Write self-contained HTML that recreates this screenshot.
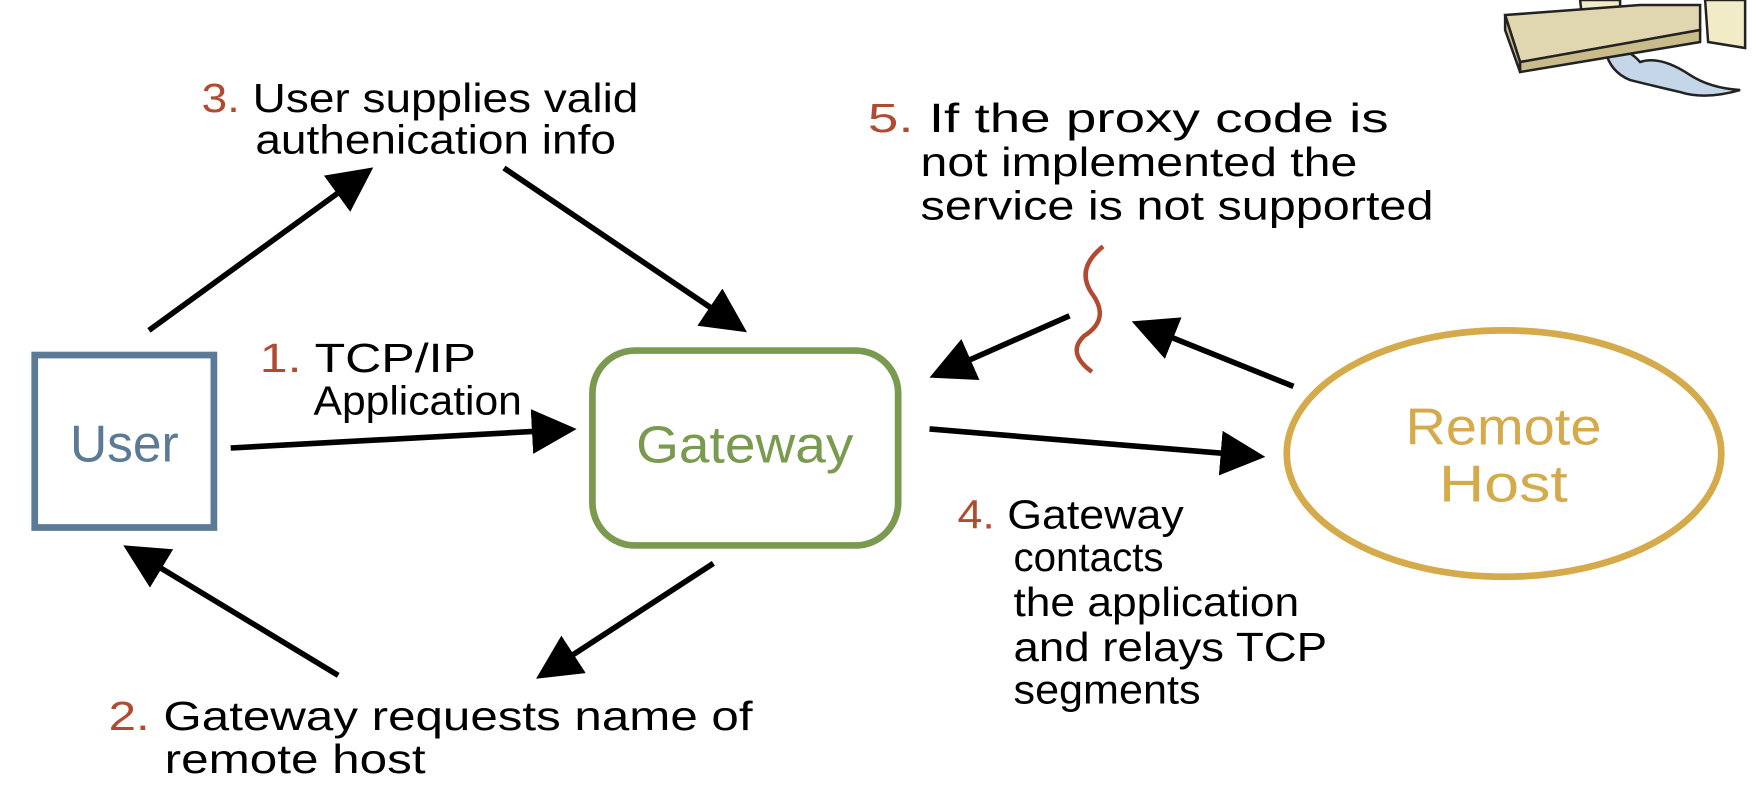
<!DOCTYPE html>
<html><head><style>
html,body{margin:0;padding:0;background:#fff;}
svg{display:block;}
text{font-family:"Liberation Sans",sans-serif;}
</style></head><body>
<svg width="1756" height="812" viewBox="0 0 1568 725" xmlns="http://www.w3.org/2000/svg">
<defs>
<marker id="ah" markerWidth="8" markerHeight="8" refX="1" refY="4" orient="auto" markerUnits="strokeWidth">
<path d="M0,0 L8,4 L0,8 Z" fill="#000"/>
</marker>
</defs>
<!-- top-right illustration -->
<g transform="scale(0.893)" stroke="#222" stroke-width="2.5">
<path d="M1580,0 L1620,0 L1620,45 L1585,45 Z" fill="#f2ebc8"/>
<path d="M1605,50 Q1625,45 1640,62 Q1660,55 1690,75 Q1710,88 1740,90 Q1705,100 1680,92 Q1650,85 1630,80 Q1610,72 1605,50 Z" fill="#c5d6e8"/>
<path d="M1505,15 L1640,5 L1700,5 L1700,30 L1520,62 Z" fill="#e0d6b0"/>
<path d="M1505,15 L1520,62 L1520,72 L1505,30 Z" fill="#c9bb8a"/>
<path d="M1520,62 L1700,30 L1700,42 L1520,72 Z" fill="#c9bb8a"/>
<path d="M1705,0 L1745,0 L1745,48 L1708,42 Z" fill="#f2ebc8"/>
</g>
<!-- User box -->
<rect x="31" y="317" width="160" height="154" fill="none" stroke="#5a7a96" stroke-width="6"/>
<text x="111" y="412" font-size="46" fill="#5a7a96" text-anchor="middle">User</text>
<!-- Gateway -->
<rect x="529" y="313" width="273" height="174" rx="38" fill="none" stroke="#7a9a50" stroke-width="6"/>
<text x="568" y="413" font-size="46" fill="#7a9a50" textLength="194" lengthAdjust="spacingAndGlyphs">Gateway</text>
<!-- Remote host -->
<ellipse cx="1343" cy="405" rx="194" ry="110" fill="none" stroke="#d4aa4a" stroke-width="6"/>
<text x="1255" y="397" font-size="46" fill="#d4aa4a" textLength="175" lengthAdjust="spacingAndGlyphs">Remote</text>
<text x="1285" y="448" font-size="46" fill="#d4aa4a" textLength="115" lengthAdjust="spacingAndGlyphs">Host</text>
<!-- arrows -->
<g stroke="#000" stroke-width="5" fill="none" marker-end="url(#ah)">
<line x1="206" y1="400" x2="480" y2="385"/>
<line x1="302" y1="603" x2="140" y2="505"/>
<line x1="133" y1="295" x2="305" y2="170"/>
<line x1="450" y1="150" x2="638" y2="277"/>
<line x1="637" y1="503" x2="508" y2="587"/>
<line x1="830" y1="383" x2="1095" y2="405"/>
<line x1="955" y1="282" x2="862" y2="323"/>
<line x1="1155" y1="345" x2="1043" y2="300"/>
</g>
<!-- squiggle -->
<path d="M985,220 Q960,240 975,262 Q992,285 968,300 Q952,315 975,332" fill="none" stroke="#b04a30" stroke-width="4"/>
<!-- labels -->
<g font-size="36" fill="#000">
<text x="180" y="100" textLength="390" lengthAdjust="spacingAndGlyphs"><tspan fill="#b04a30">3.</tspan> User supplies valid</text>
<text x="228" y="137" textLength="322" lengthAdjust="spacingAndGlyphs">authenication info</text>
<text x="232" y="332" textLength="193" lengthAdjust="spacingAndGlyphs"><tspan fill="#b04a30">1.</tspan> TCP/IP</text>
<text x="280" y="370" textLength="186" lengthAdjust="spacingAndGlyphs">Application</text>
<text x="775" y="118" textLength="465" lengthAdjust="spacingAndGlyphs"><tspan fill="#b04a30">5.</tspan> If the proxy code is</text>
<text x="822" y="157" textLength="390" lengthAdjust="spacingAndGlyphs">not implemented the</text>
<text x="822" y="196" textLength="458" lengthAdjust="spacingAndGlyphs">service is not supported</text>
<text x="855" y="472" textLength="202" lengthAdjust="spacingAndGlyphs"><tspan fill="#b04a30">4.</tspan> Gateway</text>
<text x="905" y="510">contacts</text>
<text x="905" y="550" textLength="255" lengthAdjust="spacingAndGlyphs">the application</text>
<text x="905" y="590" textLength="280" lengthAdjust="spacingAndGlyphs">and relays TCP</text>
<text x="905" y="628" textLength="167" lengthAdjust="spacingAndGlyphs">segments</text>
<text x="97" y="652" textLength="575" lengthAdjust="spacingAndGlyphs"><tspan fill="#b04a30">2.</tspan> Gateway requests name of</text>
<text x="147" y="690" textLength="233" lengthAdjust="spacingAndGlyphs">remote host</text>
</g>
</svg>
</body></html>
